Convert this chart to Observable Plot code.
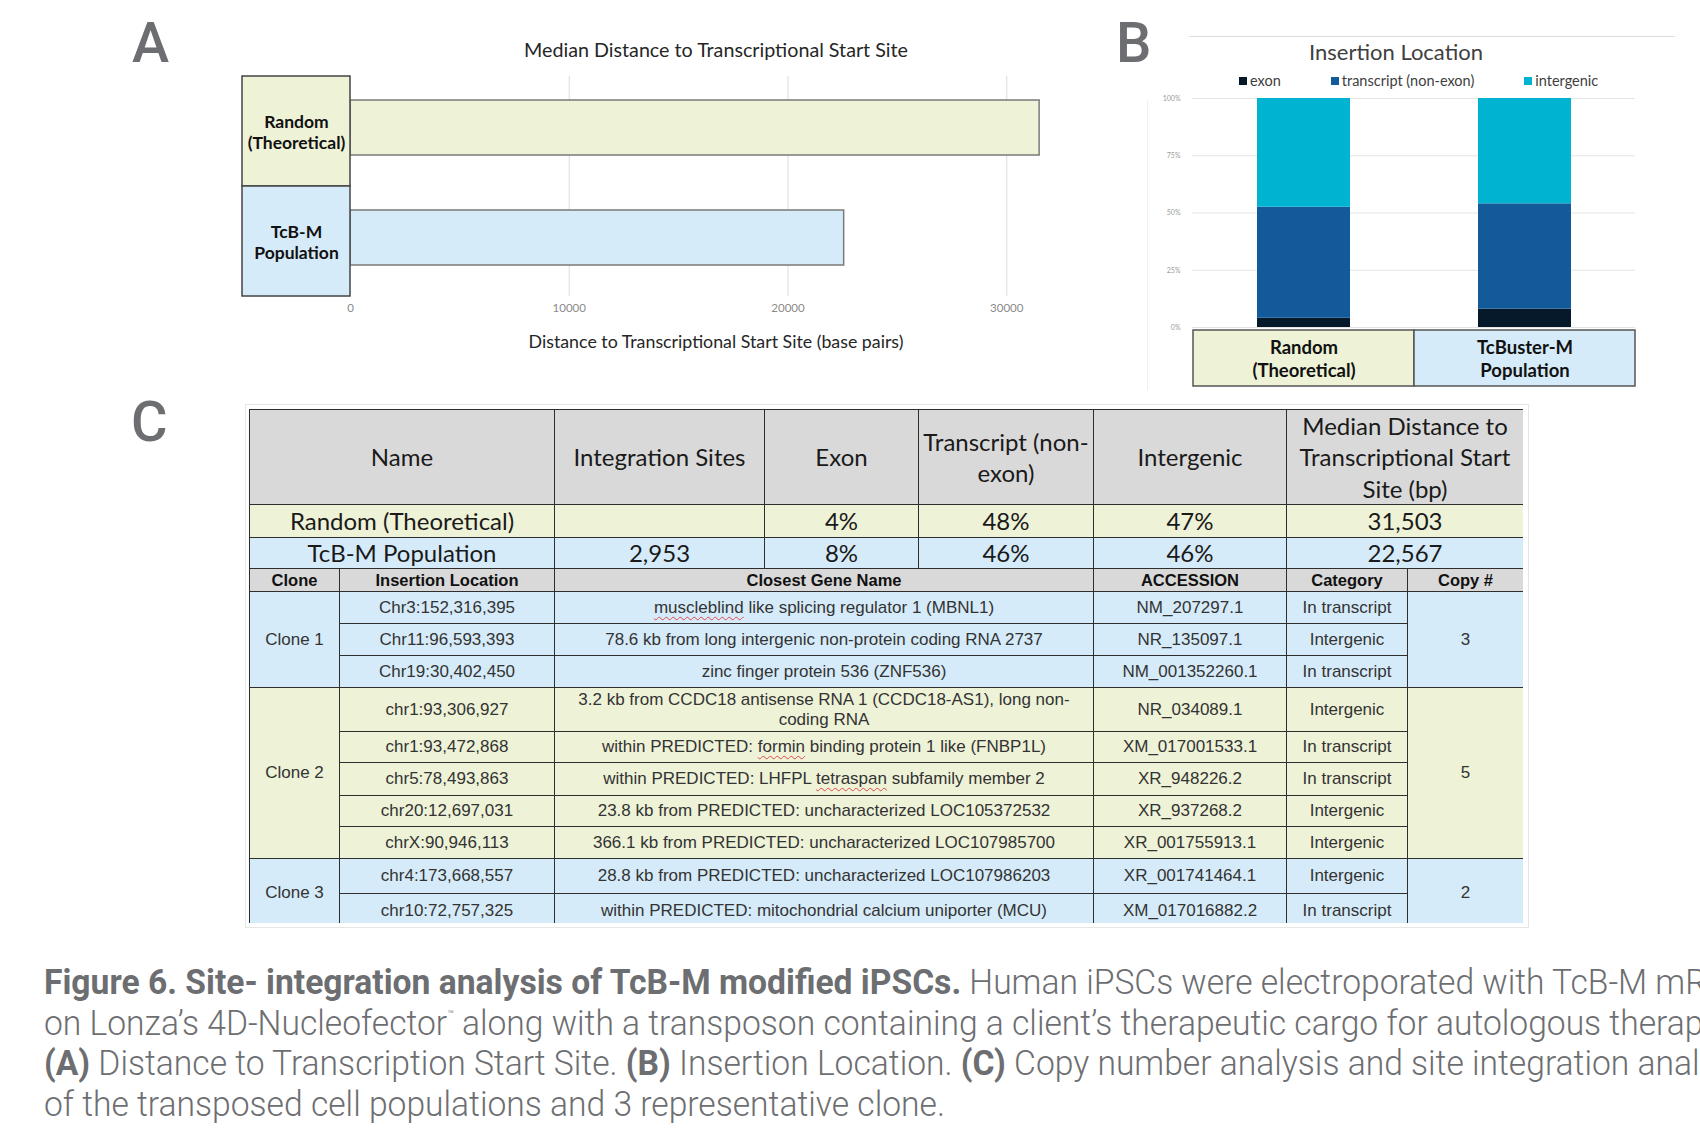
<!DOCTYPE html>
<html><head><meta charset="utf-8">
<script src="https://cdn.jsdelivr.net/npm/d3@7"></script>
<script src="https://cdn.jsdelivr.net/npm/@observablehq/plot@0.6"></script>
<style>
html,body{margin:0;padding:0;background:#fff;}
body{width:1700px;height:1139px;position:relative;overflow:hidden;font-family:Lato,"Open Sans",sans-serif;}
.letter{position:absolute;font-family:Roboto,sans-serif;font-weight:500;font-size:56px;line-height:56px;color:#6d6e71;}
.ttl{position:absolute;transform:translate(-50%,-50%);white-space:nowrap;color:#262626;}
#legendB{position:absolute;left:1239px;top:72px;display:flex;gap:50px;font-size:14.5px;color:#404040;align-items:center;}
#legendB .it{display:flex;align-items:center;gap:3px;}
#legendB .sw{width:8px;height:8px;display:inline-block;}
#tblwrap{position:absolute;left:249px;top:409px;width:1274px;height:514px;overflow:hidden;}
#tbl{border-collapse:collapse;table-layout:fixed;width:1274px;}
#tbl td{border:1.5px solid #2e2e2e;padding:0 2px;text-align:center;vertical-align:middle;overflow:hidden;}
#tbl tr.top td{font-family:Lato,sans-serif;font-size:24px;color:#1a1a1a;line-height:1.25;}
#tbl tr.hdr td{line-height:1.3;}
#tbl tr.sub td{font-family:"Liberation Sans",Arial,sans-serif;font-weight:bold;font-size:16.5px;color:#111;background:#d9d9d9;line-height:1.1;}
#tbl tr.clone td{font-family:"Liberation Sans",Arial,sans-serif;font-size:17px;color:#333;line-height:1.12;}
.flag{text-decoration:underline wavy #e04848;text-decoration-thickness:1px;text-underline-offset:3px;}
#caption{position:absolute;left:44px;top:963px;font-family:Roboto,sans-serif;font-weight:300;font-size:35px;color:#6d6e71;transform-origin:0 0;white-space:nowrap;}
#caption div{height:40.5px;line-height:40.5px;}
#caption b{font-weight:700;}
#caption sup{font-size:11px;line-height:0;vertical-align:17px;}
</style>
</head><body>
<script>
// ---------------- DATA ----------------
// Panel A
const groupsA = ["Random\n(Theoretical)", "TcB-M\nPopulation"];
const medianDistance = [31503, 22567];
const xTicksA = [0, 10000, 20000, 30000];
// Panel B
const groupsB = ["Random\n(Theoretical)", "TcBuster-M\nPopulation"];
const locations = ["exon", "transcript (non-exon)", "intergenic"];
const pctRandom = [4, 48, 47];
const pctTcBM = [8, 46, 46];
const yTicksB = [0, 0.25, 0.5, 0.75, 1];
// Panel C – summary
const summaryHeader = ["Name", "Integration Sites", "Exon", "Transcript (non-exon)", "Intergenic", "Median Distance to Transcriptional Start Site (bp)"];
const summaryRandom = ["Random (Theoretical)", "", "4%", "48%", "47%", "31,503"];
const summaryTcBM = ["TcB-M Population", "2,953", "8%", "46%", "46%", "22,567"];
// Panel C – clones
const cloneHeader = ["Clone", "Insertion Location", "Closest Gene Name", "ACCESSION", "Category", "Copy #"];
const clones = ["Clone 1", "Clone 2", "Clone 3"];
const copyNumbers = ["3", "5", "2"];
const insertionClone = [0, 0, 0, 1, 1, 1, 1, 1, 2, 2];
const insertionLocations = ["Chr3:152,316,395", "Chr11:96,593,393", "Chr19:30,402,450", "chr1:93,306,927", "chr1:93,472,868", "chr5:78,493,863", "chr20:12,697,031", "chrX:90,946,113", "chr4:173,668,557", "chr10:72,757,325"];
const closestGenes = [
  "muscleblind like splicing regulator 1 (MBNL1)",
  "78.6 kb from long intergenic non-protein coding RNA 2737",
  "zinc finger protein 536 (ZNF536)",
  "3.2 kb from CCDC18 antisense RNA 1 (CCDC18-AS1), long non-coding RNA",
  "within PREDICTED: formin binding protein 1 like (FNBP1L)",
  "within PREDICTED: LHFPL tetraspan subfamily member 2",
  "23.8 kb from PREDICTED: uncharacterized LOC105372532",
  "366.1 kb from PREDICTED: uncharacterized LOC107985700",
  "28.8 kb from PREDICTED: uncharacterized LOC107986203",
  "within PREDICTED: mitochondrial calcium uniporter (MCU)"];
const accessions = ["NM_207297.1", "NR_135097.1", "NM_001352260.1", "NR_034089.1", "XM_017001533.1", "XR_948226.2", "XR_937268.2", "XR_001755913.1", "XR_001741464.1", "XM_017016882.2"];
const categories = ["In transcript", "Intergenic", "In transcript", "Intergenic", "In transcript", "In transcript", "Intergenic", "Intergenic", "Intergenic", "In transcript"];
const flaggedWords = ["muscleblind", "formin", "tetraspan"];
// Caption
const captionLines = [
  "<b>Figure 6. Site- integration analysis of TcB-M modified iPSCs.</b> Human iPSCs were electroporated with TcB-M mRNA",
  "on Lonza’s 4D-Nucleofector<sup>™</sup> along with a transposon containing a client’s therapeutic cargo for autologous therapy.",
  "<b>(A)</b> Distance to Transcription Start Site. <b>(B)</b> Insertion Location. <b>(C)</b> Copy number analysis and site integration analysis",
  "<span id='lastline'>of the transposed cell populations and 3 representative clone.</span>"
];

// ---------------- STYLE ----------------
const YELLOW = "#eef2d7", BLUE = "#d6ebf9", GRAY = "#d9d9d9";
const groupFill = [YELLOW, BLUE];
const locationColors = ["#06192b", "#135a9b", "#00b3d1"];
const cloneFill = [BLUE, YELLOW, BLUE];

function add(html, cls, style) {
  const d = document.createElement("div");
  if (cls) d.className = cls;
  d.innerHTML = html;
  Object.assign(d.style, style || {});
  document.body.appendChild(d);
  return d;
}
function place(node, left, top) {
  node.style.position = "absolute"; node.style.left = left + "px"; node.style.top = top + "px";
  document.body.appendChild(node);
}

// Panel letters
add("A", "letter", {left: "132px", top: "15px"});
add("B", "letter", {left: "1116px", top: "15px"});
add("C", "letter", {left: "131px", top: "394px"});

// ---------------- PANEL A ----------------
const dataA = groupsA.map((g, i) => ({group: g, value: medianDistance[i]}));
add("Median Distance to Transcriptional Start Site", "ttl", {left: "716px", top: "49px", fontSize: "19.7px"});
add("Distance to Transcriptional Start Site (base pairs)", "ttl", {left: "716px", top: "341px", fontSize: "17.8px"});

const plotA = Plot.plot({
  width: 720, height: 270, marginLeft: 2, marginRight: 18, marginTop: 16, marginBottom: 34,
  style: {fontFamily: "Lato, sans-serif", fontSize: "11.5px", color: "#8a8a8a", background: "transparent", overflow: "visible"},
  x: {domain: [0, 32000], ticks: xTicksA, tickFormat: d => String(d), tickSize: 0, tickPadding: 7, label: null},
  y: {domain: groupsA, padding: 0, axis: null},
  color: {domain: groupsA, range: groupFill},
  marks: [
    Plot.ruleX(xTicksA.slice(1), {stroke: "#e2e2e2", strokeWidth: 1.2}),
    Plot.barX(dataA, {y: "group", x: "value", fill: "group", stroke: "#7a7a7a", strokeWidth: 1.5, insetTop: 24, insetBottom: 31})
  ]
});
place(plotA, 348, 60);

const plotALabels = Plot.plot({
  width: 112, height: 270, marginLeft: 2, marginRight: 2, marginTop: 16, marginBottom: 34,
  style: {fontFamily: "Lato, sans-serif", background: "transparent", overflow: "visible"},
  x: {domain: ["all"], padding: 0, axis: null},
  y: {domain: groupsA, padding: 0, axis: null},
  color: {domain: groupsA, range: groupFill},
  marks: [
    Plot.cell(dataA, {x: () => "all", y: "group", fill: "group", stroke: "#444", strokeWidth: 1.5}),
    Plot.text(dataA, {x: () => "all", y: "group", text: "group", fontWeight: "bold", fontSize: 17.5, fill: "#111", lineHeight: 1.25})
  ]
});
place(plotALabels, 240, 60);

// ---------------- PANEL B ----------------
add("", "", {position: "absolute", left: "1189px", top: "36px", width: "486px", height: "1px", background: "#dcdcdc"});
add("", "", {position: "absolute", left: "1147px", top: "100px", width: "1px", height: "290px", background: "#f0f0f0"});
add("Insertion Location", "ttl", {left: "1396px", top: "51px", fontSize: "22px", color: "#404040"});

const legendB = document.createElement("div");
legendB.id = "legendB";
locations.forEach((loc, j) => {
  const it = document.createElement("div"); it.className = "it";
  it.innerHTML = `<span class="sw" style="background:${locationColors[j]}"></span><span>${loc}</span>`;
  legendB.appendChild(it);
});
document.body.appendChild(legendB);

const dataB = [];
groupsB.forEach((g, i) => {
  const vals = i === 0 ? pctRandom : pctTcBM;
  locations.forEach((loc, j) => dataB.push({group: g, location: loc, value: vals[j]}));
});
const plotB = Plot.plot({
  width: 500, height: 250, marginLeft: 42, marginRight: 15, marginTop: 10, marginBottom: 11,
  style: {fontFamily: "Lato, sans-serif", fontSize: "7px", color: "#9a9a9a", background: "transparent", overflow: "visible"},
  x: {domain: groupsB, padding: 0, axis: null},
  y: {domain: [0, 1], ticks: yTicksB, tickFormat: d3.format(".0%"), tickSize: 0, tickPadding: 12, label: null},
  color: {domain: locations, range: locationColors},
  marks: [
    Plot.ruleY(yTicksB, {stroke: "#e4e4e4", strokeWidth: 1.2}),
    Plot.barY(dataB, Plot.stackY({offset: "normalize"}, {x: "group", y: "value", fill: "location", insetLeft: 64, insetRight: 64}))
  ]
});
place(plotB, 1150, 88);

const dataBLabels = groupsB.map(g => ({group: g}));
const plotBLabels = Plot.plot({
  width: 500, height: 60, marginLeft: 42, marginRight: 15, marginTop: 2, marginBottom: 2,
  style: {fontFamily: "Lato, sans-serif", background: "transparent", overflow: "visible"},
  x: {domain: groupsB, padding: 0, axis: null},
  y: {domain: ["all"], padding: 0, axis: null},
  color: {domain: groupsB, range: groupFill},
  marks: [
    Plot.cell(dataBLabels, {x: "group", y: () => "all", fill: "group", stroke: "#555", strokeWidth: 1.5}),
    Plot.text(dataBLabels, {x: "group", y: () => "all", text: "group", fontWeight: "bold", fontSize: 18.5, fill: "#111", lineHeight: 1.25})
  ]
});
place(plotBLabels, 1150, 328);

// ---------------- PANEL C (table) ----------------
add("", "", {position: "absolute", left: "245px", top: "404px", width: "1282px", height: "522px", border: "1px solid #e6e6e6"});
const wrap = document.createElement("div"); wrap.id = "tblwrap";
const tbl = document.createElement("table"); tbl.id = "tbl";
const colWidths = [90, 215, 210, 154, 175, 193, 121, 116];
const cg = document.createElement("colgroup");
colWidths.forEach(w => { const c = document.createElement("col"); c.style.width = w + "px"; cg.appendChild(c); });
tbl.appendChild(cg);
function row(cls, height) { const tr = document.createElement("tr"); tr.className = cls; tr.style.height = height + "px"; tbl.appendChild(tr); return tr; }
function cell(tr, html, opts) {
  const td = document.createElement("td"); td.innerHTML = html;
  if (opts.colspan) td.colSpan = opts.colspan;
  if (opts.rowspan) td.rowSpan = opts.rowspan;
  if (opts.bg) td.style.background = opts.bg;
  tr.appendChild(td); return td;
}
const topSpans = [2, 1, 1, 1, 1, 2];
let tr = row("top hdr", 95);
summaryHeader.forEach((t, i) => cell(tr, t, {colspan: topSpans[i], bg: GRAY}));
tr = row("top", 33);
summaryRandom.forEach((t, i) => cell(tr, t, {colspan: topSpans[i], bg: YELLOW}));
tr = row("top", 31);
summaryTcBM.forEach((t, i) => cell(tr, t, {colspan: topSpans[i], bg: BLUE}));
const subSpans = [1, 1, 3, 1, 1, 1];
tr = row("sub", 23);
cloneHeader.forEach((t, i) => cell(tr, t, {colspan: subSpans[i]}));
const cloneRowHeights = [32, 32, 32, 44, 31, 33, 31, 32, 35, 34];
const flagRe = new RegExp("\\b(" + flaggedWords.join("|") + ")\\b", "g");
insertionLocations.forEach((loc, i) => {
  const c = insertionClone[i];
  const first = insertionClone.indexOf(c) === i;
  const n = insertionClone.filter(v => v === c).length;
  const bg = cloneFill[c];
  const r = row("clone", cloneRowHeights[i]);
  if (first) cell(r, clones[c], {rowspan: n, bg});
  cell(r, loc, {bg});
  cell(r, closestGenes[i].replace(flagRe, '<span class="flag">$1</span>'), {colspan: 3, bg});
  cell(r, accessions[i], {bg});
  cell(r, categories[i], {bg});
  if (first) cell(r, copyNumbers[c], {rowspan: n, bg});
});
wrap.appendChild(tbl);
document.body.appendChild(wrap);

// ---------------- CAPTION ----------------
const cap = add(captionLines.map(l => `<div>${l}</div>`).join(""), "", {});
cap.id = "caption";
function fitCaption() {
  const last = document.getElementById("lastline");
  cap.style.transform = "none";
  const w0 = last.getBoundingClientRect().width;
  if (w0 > 0) cap.style.transform = `scaleX(${901 / w0})`;
}
fitCaption();
if (document.fonts && document.fonts.ready) document.fonts.ready.then(fitCaption);
</script>
</body></html>
